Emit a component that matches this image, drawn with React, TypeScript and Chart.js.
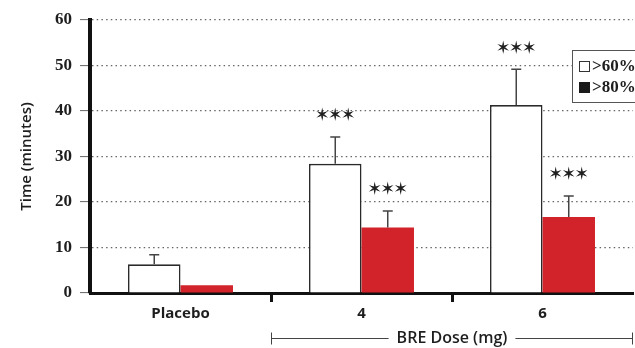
import React, { useEffect, useRef } from 'react';
import { Chart, registerables } from 'chart.js';

Chart.register(...registerables);

const categories = ['Placebo', '4', '6'];
const seriesLabels = ['>60%', '>80%'];
const over60 = [6.3, 28.4, 41.3];
const over60Err = [2.1, 5.9, 7.9];
const over80 = [1.7, 14.4, 16.7];
const over80Err = [0, 3.6, 4.6];
const over60Sig = ['', '***', '***'];
const over80Sig = ['', '***', '***'];
const yMin = 0;
const yMax = 60;
const yStep = 10;
const yTitle = 'Time (minutes)';
const groupLabel = 'BRE Dose (mg)';

const INK = '#1e1e1e';
const RED = '#d2232a';

const values = [over60, over80];
const errors = [over60Err, over80Err];
const sigs = [over60Sig, over80Sig];

const errorBarPlugin = {
  id: 'errorBars',
  afterDatasetsDraw(chart: any) {
    const ctx = chart.ctx;
    const y = chart.scales.y;
    ctx.save();
    for (let d = 0; d < 2; d++) {
      const meta = chart.getDatasetMeta(d);
      meta.data.forEach((bar: any, i: number) => {
        const v = values[d][i];
        const e = errors[d][i];
        const x = bar.x;
        const top = y.getPixelForValue(v + e);
        if (e > 0) {
          ctx.strokeStyle = '#444';
          ctx.lineWidth = 1.5;
          ctx.beginPath();
          ctx.moveTo(x, bar.y);
          ctx.lineTo(x, top);
          ctx.moveTo(x - 5, top);
          ctx.lineTo(x + 5, top);
          ctx.stroke();
        }
        const s = sigs[d][i];
        if (s) {
          ctx.fillStyle = INK;
          ctx.strokeStyle = INK;
          ctx.lineWidth = 0.7;
          ctx.font = '13px "DejaVu Sans"';
          ctx.textAlign = 'center';
          ctx.textBaseline = 'middle';
          const n = s.length;
          for (let k = 0; k < n; k++) {
            const sx = x + (k - (n - 1) / 2) * 13;
            ctx.fillText('\u2736', sx, top - 21);
            ctx.strokeText('\u2736', sx, top - 21);
          }
        }
      });
    }
    ctx.restore();
  },
};

const decorPlugin = {
  id: 'decor',
  afterDraw(chart: any) {
    const ctx = chart.ctx;
    const xs = chart.scales.x;
    const area = chart.chartArea;
    ctx.save();
    // bracket with group label
    const x1 = xs.getPixelForValue(0.5);
    const x2 = area.right;
    const yb = 338.5;
    ctx.font = '600 16px "Open Sans"';
    const w = ctx.measureText(groupLabel).width;
    const cx = (x1 + x2) / 2;
    ctx.strokeStyle = '#444';
    ctx.lineWidth = 1;
    ctx.beginPath();
    ctx.moveTo(x1, yb);
    ctx.lineTo(cx - w / 2 - 8, yb);
    ctx.moveTo(cx + w / 2 + 8, yb);
    ctx.lineTo(x2, yb);
    ctx.moveTo(x1 + 0.5, yb - 6);
    ctx.lineTo(x1 + 0.5, yb + 6);
    ctx.moveTo(x2 - 0.5, yb - 6);
    ctx.lineTo(x2 - 0.5, yb + 6);
    ctx.stroke();
    ctx.fillStyle = INK;
    ctx.textAlign = 'center';
    ctx.textBaseline = 'middle';
    ctx.fillText(groupLabel, cx, yb);

    // legend box
    const lx = area.right - 61;
    const ly = area.top + 30;
    ctx.fillStyle = '#fff';
    ctx.fillRect(lx, ly, 90, 52);
    ctx.strokeStyle = '#555';
    ctx.lineWidth = 1;
    ctx.strokeRect(lx + 0.5, ly + 0.5, 90, 52);
    const rows = [ly + 16, ly + 37];
    ctx.font = '700 17px "Liberation Serif"';
    ctx.textAlign = 'left';
    ctx.textBaseline = 'middle';
    seriesLabels.forEach((lab, i) => {
      const ry = rows[i];
      if (i === 0) {
        ctx.fillStyle = '#fff';
        ctx.fillRect(lx + 7, ry - 5, 11, 11);
        ctx.strokeStyle = '#333';
        ctx.strokeRect(lx + 7.5, ry - 4.5, 10, 10);
      } else {
        ctx.fillStyle = '#1a1a1a';
        ctx.fillRect(lx + 7, ry - 5, 11, 11);
      }
      ctx.fillStyle = INK;
      ctx.fillText(lab, lx + 20, ry + 1);
    });
    ctx.restore();
  },
};

export default function App() {
  const ref = useRef<HTMLCanvasElement>(null);
  useEffect(() => {
    const chart = new Chart(ref.current as HTMLCanvasElement, {
      type: 'bar',
      data: {
        labels: categories,
        datasets: [
          {
            label: seriesLabels[0],
            data: over60,
            backgroundColor: '#ffffff',
            borderColor: '#2a2a2a',
            borderWidth: 1.6,
            categoryPercentage: 0.58,
            barPercentage: 1,
          },
          {
            label: seriesLabels[1],
            data: over80,
            backgroundColor: RED,
            borderWidth: 0,
            categoryPercentage: 0.58,
            barPercentage: 1,
          },
        ],
      },
      options: {
        responsive: false,
        animation: false,
        devicePixelRatio: 1,
        layout: { padding: { top: 20, right: 2, left: 0, bottom: 0 } },
        plugins: {
          legend: { display: false },
          tooltip: { enabled: false },
        },
        scales: {
          x: {
            grid: {
              display: true,
              drawOnChartArea: false,
              drawTicks: true,
              tickLength: 9,
              tickWidth: 3,
              tickColor: (c: any) => (c.index === 1 || c.index === 2 ? '#111' : 'rgba(0,0,0,0)'),
            },
            border: { display: true, width: 3, color: '#111' },
            ticks: {
              color: INK,
              font: { family: '"Open Sans"', size: 15, weight: '700' },
              padding: 3,
            },
            afterFit: (s: any) => {
              s.height = 55;
            },
          },
          y: {
            min: yMin,
            max: yMax,
            ticks: {
              stepSize: yStep,
              color: INK,
              font: { family: '"Liberation Serif"', size: 17, weight: 'bold' },
              padding: 8,
            },
            grid: {
              color: '#666',
              lineWidth: 1.2,
              drawTicks: true,
              tickLength: 10,
              tickColor: '#666',
              tickWidth: 1,
            },
            border: { display: true, width: 4, color: '#111', dash: [1.5, 3.2] },
            title: {
              display: true,
              text: yTitle,
              color: INK,
              font: { family: '"Open Sans"', size: 15, weight: '600' },
              padding: { top: 18, bottom: 0 },
            },
            afterFit: (s: any) => {
              s.width = 90;
            },
          },
        },
      },
      plugins: [errorBarPlugin, decorPlugin],
    } as any);
    return () => chart.destroy();
  }, []);
  return (
    <div
      style={{
        position: 'absolute',
        left: 0,
        top: 0,
        width: 635,
        height: 348,
        overflow: 'hidden',
        background: '#fff',
      }}
    >
      <canvas ref={ref} width={635} height={348} style={{ display: 'block', width: 635, height: 348 }} />
    </div>
  );
}
